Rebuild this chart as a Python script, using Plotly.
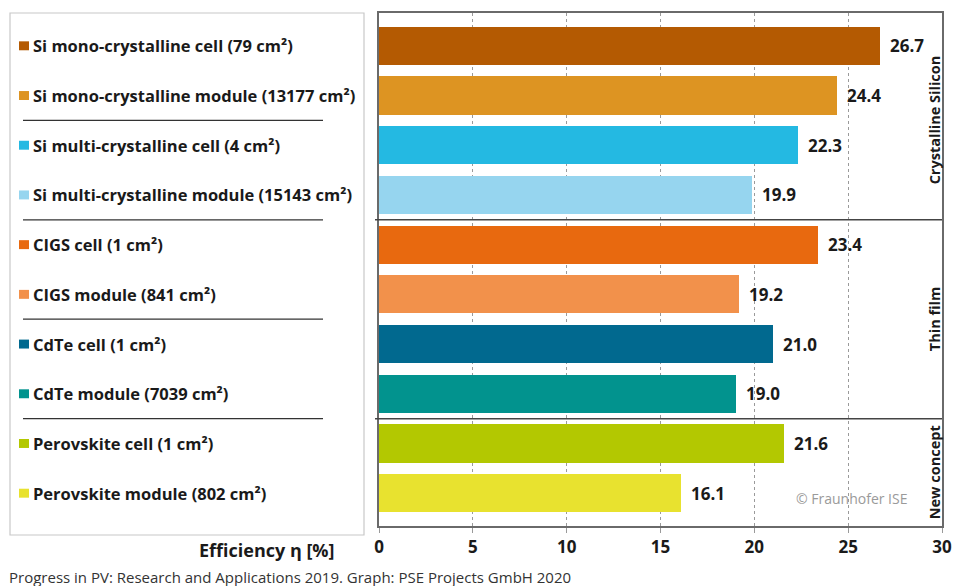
import plotly.graph_objects as go

# Record efficiencies of solar cells and modules by technology
labels = [
    "Si mono-crystalline cell (79 cm²)",
    "Si mono-crystalline module (13177 cm²)",
    "Si multi-crystalline cell (4 cm²)",
    "Si multi-crystalline module (15143 cm²)",
    "CIGS cell (1 cm²)",
    "CIGS module (841 cm²)",
    "CdTe cell (1 cm²)",
    "CdTe module (7039 cm²)",
    "Perovskite cell (1 cm²)",
    "Perovskite module (802 cm²)",
]
efficiency = [26.7, 24.4, 22.3, 19.9, 23.4, 19.2, 21.0, 19.0, 21.6, 16.1]
colors = [
    "#B45A02", "#DD9422", "#24B9E2", "#96D5EF", "#E8690F",
    "#F2914B", "#01698F", "#02938E", "#B3C801", "#E8E22F",
]
groups = ["Crystalline Silicon", "Thin film", "New concept"]
group_centers = [1.5, 5.5, 8.58]
legend_separators = [1.5, 3.5, 5.5, 7.5]
group_separators = [3.5, 7.5]
x_ticks = [0, 5, 10, 15, 20, 25, 30]

W, H = 955, 586
ML, MR, MT, MB = 379, 13, 13, 60
PW = W - ML - MR
PH = H - MT - MB


def px_x(px):
    """Convert a pixel column to paper x."""
    return (px - ML) / PW


def px_y(py):
    """Convert a pixel row to paper y."""
    return 1 - (py - MT) / PH


FONT = "Open Sans"
DARK = "#1a1a1a"
pos = list(range(len(labels)))

fig = go.Figure()
fig.add_trace(go.Bar(
    y=pos,
    x=efficiency,
    orientation="h",
    width=0.77,
    marker=dict(color=colors, line=dict(width=0)),
    hoverinfo="x",
    showlegend=False,
))

annotations = []
shapes = []

# value labels next to each bar
for i, v in enumerate(efficiency):
    annotations.append(dict(
        x=v, y=i, xref="x", yref="y", text=f"{v:.1f}",
        xanchor="left", yanchor="middle", xshift=8, showarrow=False,
        font=dict(family=FONT, size=17, color=DARK, weight=700),
    ))

# legend panel on the left
shapes.append(dict(
    type="rect", xref="paper", yref="paper",
    x0=px_x(10), x1=px_x(364), y0=px_y(535), y1=px_y(13),
    line=dict(color="#c8c8c8", width=1.2), fillcolor="white", layer="below",
))
for i, (lab, col) in enumerate(zip(labels, colors)):
    shapes.append(dict(
        type="rect", xref="paper", yref="y",
        x0=px_x(19), x1=px_x(29), y0=i - 0.09, y1=i + 0.09,
        line=dict(width=0), fillcolor=col,
    ))
    annotations.append(dict(
        x=px_x(31), y=i, xref="paper", yref="y", text=lab,
        xanchor="left", yanchor="middle", showarrow=False,
        font=dict(family=FONT, size=16.5, color=DARK, weight=700),
    ))
for s in legend_separators:
    shapes.append(dict(
        type="line", xref="paper", yref="y",
        x0=px_x(23), x1=px_x(323), y0=s, y1=s,
        line=dict(color="#333333", width=1.2),
    ))

# group separators across the plot
for s in group_separators:
    shapes.append(dict(
        type="line", xref="paper", yref="y",
        x0=px_x(375), x1=1, y0=s, y1=s,
        line=dict(color="#444444", width=1.5),
    ))

# vertical group titles
for g, c in zip(groups, group_centers):
    annotations.append(dict(
        x=px_x(934), y=c, xref="paper", yref="y", text=g,
        textangle=-90, xanchor="center", yanchor="middle", showarrow=False,
        font=dict(family=FONT, size=14.5, color=DARK, weight=700),
    ))

annotations.append(dict(
    x=px_x(910), y=9.1, xref="paper", yref="y", text="© Fraunhofer ISE",
    xanchor="right", yanchor="middle", showarrow=False,
    font=dict(family=FONT, size=14, color="#9a9a9a"),
))

annotations.append(dict(
    x=px_x(337), y=px_y(550), xref="paper", yref="paper",
    text="Efficiency η [%]", xanchor="right", yanchor="middle", showarrow=False,
    font=dict(family=FONT, size=18, color=DARK, weight=700),
))
annotations.append(dict(
    x=px_x(7), y=px_y(577), xref="paper", yref="paper",
    text="Progress in PV: Research and Applications 2019. Graph: PSE Projects GmbH 2020",
    xanchor="left", yanchor="middle", showarrow=False,
    font=dict(family=FONT, size=15, color="#333333"),
))

fig.update_layout(
    width=W, height=H,
    autosize=False,
    margin=dict(l=ML, r=MR, t=MT, b=MB, pad=0, autoexpand=False),
    paper_bgcolor="white",
    plot_bgcolor="white",
    bargap=0,
    xaxis=dict(
        range=[0, 30], tickvals=x_ticks, ticktext=[str(t) for t in x_ticks],
        showgrid=True, gridcolor="#9a9a9a", griddash="dot", gridwidth=1,
        zeroline=False, showline=True, mirror=True,
        linecolor="#6a6a6a", linewidth=1.5,
        ticks="outside", ticklen=5, tickcolor="#9a9a9a",
        tickfont=dict(family=FONT, size=17, color=DARK, weight=700),
        automargin=False, fixedrange=True,
    ),
    yaxis=dict(
        range=[9.66, -0.66], showticklabels=False, showgrid=False,
        zeroline=False, showline=True, mirror=True,
        linecolor="#6a6a6a", linewidth=1.5, ticks="",
        automargin=False, fixedrange=True,
    ),
    annotations=annotations,
    shapes=shapes,
)

fig.write_html("out.html")
